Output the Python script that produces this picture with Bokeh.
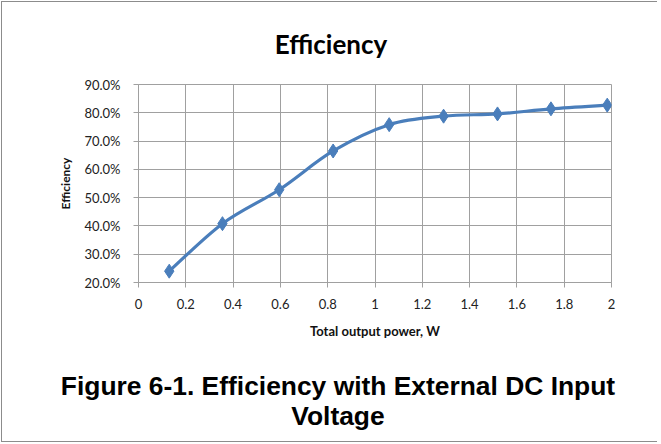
from bokeh.plotting import figure
from bokeh.layouts import column
from bokeh.models import (Range1d, FixedTicker, NumeralTickFormatter, ColumnDataSource,
                          Div)
from bokeh.embed import file_html
from bokeh.resources import INLINE

# ---- data ----
power_w = [0.13, 0.355, 0.595, 0.823, 1.06, 1.29, 1.518, 1.744, 1.982]
efficiency_pct = [24.0, 40.8, 52.8, 66.5, 75.8, 78.8, 79.6, 81.4, 82.7]

x_ticks = [0, 0.2, 0.4, 0.6, 0.8, 1, 1.2, 1.4, 1.6, 1.8, 2]
x_tick_labels = ["0", "0.2", "0.4", "0.6", "0.8", "1", "1.2", "1.4", "1.6", "1.8", "2"]
y_ticks_pct = [20, 30, 40, 50, 60, 70, 80, 90]

title_text = "Efficiency"
x_label = "Total output power, W"
y_label = "Efficiency"
caption_lines = ["Figure 6-1. Efficiency with External DC Input", "Voltage"]

LINE_COLOR = "#4a7ebb"
GRID_COLOR = "#a0a0a0"
W = 655
HEAD_H, MAIN_H, FOOT_H = 62, 281, 96

eff = [v / 100.0 for v in efficiency_pct]

# ---- title (HTML text) ----
head = Div(width=W, height=HEAD_H, margin=0,
           text=('<div style="width:600px;margin-left:29px;padding-top:29px;'
                 'text-align:center;font-family:Lato;font-weight:bold;'
                 'font-size:26px;line-height:26px;color:#000;">'
                 + title_text + '</div>'))

# ---- main chart ----
p = figure(width=W, height=MAIN_H, output_backend="svg", toolbar_location=None,
           x_range=Range1d(0, 2), y_range=Range1d(0.2, 0.9),
           min_border_left=136, min_border_right=46,
           min_border_top=20, min_border_bottom=63, margin=0)
p.outline_line_color = GRID_COLOR
p.outline_line_width = 1

p.xaxis.ticker = FixedTicker(ticks=x_ticks)
p.xaxis.major_label_overrides = {t: s for t, s in zip(x_ticks, x_tick_labels)}
p.yaxis.ticker = FixedTicker(ticks=[v / 100.0 for v in y_ticks_pct])
p.yaxis.formatter = NumeralTickFormatter(format="0.0%")
for ax in (p.xaxis, p.yaxis):
    ax.axis_line_color = GRID_COLOR
    ax.major_tick_line_color = GRID_COLOR
    ax.major_tick_out = 5
    ax.major_tick_in = 0
    ax.minor_tick_line_color = None
    ax.major_label_text_font = "Lato"
    ax.major_label_text_font_size = "13px"
    ax.major_label_text_color = "#222222"
    ax.axis_label_text_font = "Lato"
    ax.axis_label_text_font_style = "bold"
    ax.axis_label_text_color = "#111111"
p.xaxis.major_label_standoff = 11
p.yaxis.major_label_standoff = 13
p.xaxis.axis_label = x_label
p.xaxis.axis_label_text_font_size = "13px"
p.xaxis.axis_label_standoff = 11
p.yaxis.axis_label = y_label
p.yaxis.axis_label_text_font_size = "12px"
p.yaxis.axis_label_standoff = 8

p.xgrid.ticker = FixedTicker(ticks=x_ticks)
p.xgrid.grid_line_color = GRID_COLOR
p.ygrid.grid_line_color = GRID_COLOR

# smoothed line (Catmull-Rom -> cubic Bezier segments through the data points)
n = len(power_w)
px = [power_w[0]] + power_w + [power_w[-1]]
py = [eff[0]] + eff + [eff[-1]]
seg = dict(x0=[], y0=[], x1=[], y1=[], cx0=[], cy0=[], cx1=[], cy1=[])
for i in range(n - 1):
    a, b, c, d = i, i + 1, i + 2, i + 3
    seg["x0"].append(px[b]); seg["y0"].append(py[b])
    seg["x1"].append(px[c]); seg["y1"].append(py[c])
    seg["cx0"].append(px[b] + (px[c] - px[a]) / 6.0)
    seg["cy0"].append(py[b] + (py[c] - py[a]) / 6.0)
    seg["cx1"].append(px[c] - (px[d] - px[b]) / 6.0)
    seg["cy1"].append(py[c] - (py[d] - py[b]) / 6.0)
p.bezier(x0="x0", y0="y0", x1="x1", y1="y1", cx0="cx0", cy0="cy0",
         cx1="cx1", cy1="cy1", source=ColumnDataSource(seg),
         line_color=LINE_COLOR, line_width=3.2, line_cap="round")

p.scatter(power_w, eff, marker="diamond", size=14, fill_color=LINE_COLOR,
          line_color=LINE_COLOR)

# ---- caption (HTML text) ----
foot = Div(width=W, height=FOOT_H, margin=0,
           text=('<div style="width:600px;margin-left:36px;padding-top:26px;'
                 'text-align:center;font-family:\'Liberation Sans\';font-weight:bold;'
                 'font-size:26.4px;line-height:30px;color:#000;">'
                 + caption_lines[0] + '<br>' + caption_lines[1] + '</div>'))

layout = column(head, p, foot, spacing=0,
                styles={"margin-left": "1px", "margin-top": "1px",
                        "border-left": "1px solid #8c8c8c",
                        "border-top": "1px solid #8c8c8c",
                        "border-bottom": "1px solid #8c8c8c"})

open("out.html", "w").write(file_html(layout, INLINE))
